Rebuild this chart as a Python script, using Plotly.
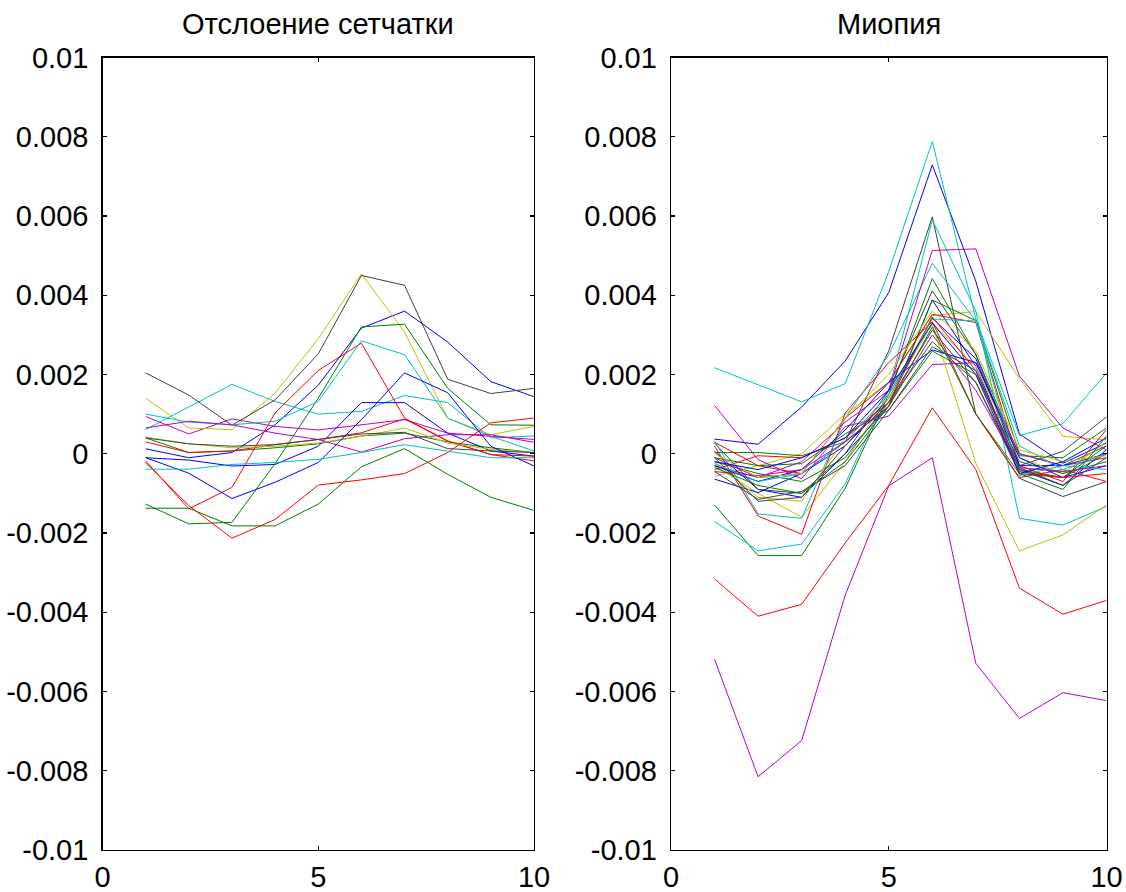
import numpy as np
import plotly.graph_objects as go

# x positions shared by every line
x_vals = [1, 2, 3, 4, 5, 6, 7, 8, 9, 10]

# MATLAB default colour order
BLUE, GREEN, RED, CYAN, MAG, YEL, BLK = "#0000FF", "#008000", "#FF0000", "#00BFBF", "#BF00BF", "#BFBF00", "#404040"

# ---- Left panel: "Отслоение сетчатки" (values in units of 1e-3) ----
left_colors = [BLUE, GREEN, RED, CYAN, MAG, YEL, BLK,
               BLUE, GREEN, RED, CYAN, MAG, YEL, BLK,
               BLUE, GREEN, RED, CYAN]
left_milli = [
    [0.125, -0.10, 0.03, 0.73, 1.73, 3.17, 3.60, 2.82, 1.82, 1.44],     # b
    [0.40, 0.03, 0.07, 0.15, 0.25, 0.45, 0.52, 0.30, 0.15, 0.03],       # g
    [0.30, 0.03, 0.07, 0.23, 0.36, 0.53, 0.88, 0.32, -0.02, -0.18],     # r
    [0.61, 1.19, 1.75, 1.32, 1.00, 1.07, 1.47, 1.29, 0.40, 0.45],       # c
    [0.94, 0.50, 0.88, 0.69, 0.60, 0.73, 0.86, 0.52, 0.44, 0.36],       # m
    [1.40, 0.65, 0.61, 1.53, 2.90, 4.54, 3.07, 0.90, 0.48, 0.69],       # y
    [2.04, 1.48, 0.72, 1.36, 2.52, 4.50, 4.25, 1.88, 1.52, 1.65],       # k
    [-0.10, -0.16, -0.31, -0.27, 0.19, 1.29, 1.29, 0.52, 0.07, -0.06],  # b
    [-1.27, -1.77, -1.73, -0.25, 1.40, 3.20, 3.27, 1.65, 0.73, 0.72],   # g
    [-0.18, -1.39, -0.85, 1.03, 2.10, 2.79, 0.90, 0.32, -0.02, -0.06],  # r
    [1.00, 0.80, 0.73, 0.82, 1.32, 2.85, 2.50, 0.90, 0.44, 0.07],       # c
    [0.65, 0.82, 0.73, 0.52, 0.36, 0.04, 0.38, 0.48, 0.48, 0.29],       # m
    [0.42, 0.25, 0.15, 0.19, 0.27, 0.44, 0.65, 0.27, 0.11, 0.03],       # y
    [0.40, 0.25, 0.19, 0.23, 0.36, 0.50, 0.54, 0.13, 0.07, 0.03],       # k
    [-0.10, -0.49, -1.13, -0.72, -0.22, 0.86, 2.04, 1.54, 0.19, -0.31], # b
    [-1.375, -1.375, -1.82, -1.82, -1.27, -0.33, 0.13, -0.52, -1.10, -1.43],  # g
    [-0.22, -1.31, -2.13, -1.66, -0.79, -0.66, -0.50, 0.03, 0.78, 0.90],      # r
    [-0.39, -0.39, -0.27, -0.22, -0.14, 0.03, 0.23, 0.07, -0.10, -0.10],      # c
]

# ---- Right panel: "Миопия" (values in units of 1e-3) ----
right_colors = [BLUE, GREEN, RED, CYAN, MAG, YEL, BLK,
                BLUE, GREEN, RED, CYAN, MAG, YEL, BLK,
                BLUE, GREEN, RED, CYAN, MAG, YEL, BLK,
                BLUE, GREEN, RED, CYAN, MAG, YEL, BLK,
                BLUE, GREEN]
right_milli = [
    [0.37, 0.24, 1.18, 2.34, 4.07, 7.29, 4.35, 0.50, -0.24, 0.27],     # b
    [-1.29, -2.57, -2.57, -0.87, 1.50, 4.42, 2.50, -0.05, -0.10, 0.65], # g
    [-3.16, -4.10, -3.80, -2.25, -0.80, 1.16, -0.40, -3.39, -4.05, -3.70], # r
    [2.17, 1.75, 1.31, 1.77, 4.60, 7.88, 3.40, 0.46, 0.76, 2.04],       # c
    [-5.19, -8.15, -7.24, -3.57, -0.81, -0.10, -5.29, -6.68, -6.03, -6.23], # m
    [-0.57, -0.30, 0.00, 1.00, 1.80, 3.49, 3.59, 1.90, 0.44, 0.35],     # y
    [-0.30, -0.60, -0.50, 0.30, 2.60, 5.98, 1.00, -0.62, -1.08, -0.70], # k
    [0.06, -0.90, -1.10, 0.00, 1.20, 3.88, 2.20, -0.40, -0.80, 0.10],   # b
    [0.03, 0.03, -0.05, 0.30, 1.20, 3.88, 3.36, 0.00, -0.30, 0.20],     # g
    [0.29, -0.30, -0.50, 0.90, 1.80, 3.52, 3.31, -0.30, -0.70, 0.61],   # r
    [-1.71, -2.45, -2.28, -0.76, 1.60, 5.90, 3.60, -1.63, -1.80, -1.33],# c
    [1.22, -0.15, -0.63, 0.69, 0.95, 2.25, 2.30, 0.00, -0.30, -0.10],   # m
    [-0.30, -1.00, -1.60, -0.20, 1.50, 3.27, -0.24, -2.45, -2.05, -1.29], # y
    [0.27, -0.90, -1.00, 0.00, 1.60, 4.11, 2.50, -0.30, 0.06, 0.93],    # k
    [-0.64, -0.98, -0.50, 0.20, 1.40, 3.42, 2.40, -0.30, -0.30, 0.00],  # b
    [-0.20, -0.50, -0.70, -0.10, 1.30, 2.83, 1.80, -0.40, -0.60, 0.00], # g
    [0.19, -1.57, -2.03, 1.03, 2.30, 3.33, 1.00, -0.60, -0.40, -0.70],  # r
    [0.33, -1.52, -1.63, 0.90, 2.50, 4.81, 3.35, 0.20, -0.40, 0.00],    # c
    [-0.10, -0.60, -0.20, 0.80, 1.60, 5.13, 5.17, 1.96, 0.65, 0.10],    # m
    [-0.20, -1.10, -1.20, 0.40, 1.40, 3.30, 2.20, -0.10, -0.50, 0.30],  # y
    [-0.10, -1.20, -1.10, 0.20, 1.30, 3.12, 1.80, -0.50, -0.60, 0.20],  # k
    [-0.30, -0.70, -0.40, 0.60, 1.80, 2.62, 2.30, -0.10, -0.60, -0.30], # b
    [-0.10, -0.30, -0.25, 0.50, 1.10, 2.59, 2.00, -0.20, -0.50, -0.20], # g
    [-0.40, -0.05, -0.10, 0.40, 1.30, 3.45, 2.10, -0.45, -0.60, -0.50], # r
    [-0.25, -0.70, -0.50, 0.30, 1.50, 3.40, 3.35, -0.55, -0.30, -0.40], # c
    [-0.45, -0.55, -0.40, 0.30, 1.20, 3.00, 1.60, -0.35, -0.45, -0.30], # m
    [0.00, -0.60, -0.50, 0.90, 2.00, 3.60, 2.60, 0.10, -0.20, -0.05],   # y
    [-0.45, -1.15, -0.95, -0.30, 1.10, 2.70, 2.10, -0.35, -0.80, -0.10],# k
    [-0.20, -0.40, -0.10, 0.40, 1.60, 3.30, 2.00, -0.50, -0.20, 0.40],  # b
    [-0.35, -0.80, -1.00, -0.20, 1.20, 3.20, 1.00, -0.50, -0.90, 0.45], # g
]

titles = ["Отслоение сетчатки", "Миопия"]
y_tickvals = [0.01, 0.008, 0.006, 0.004, 0.002, 0, -0.002, -0.004, -0.006, -0.008, -0.01]
y_ticktext = ["0.01", "0.008", "0.006", "0.004", "0.002", "0",
              "-0.002", "-0.004", "-0.006", "-0.008", "-0.01"]
x_tickvals = [0, 5, 10]
x_ticktext = ["0", "5", "10"]

SCALE = 1e-3
FONT = "Liberation Sans, Arial, sans-serif"
FS = 29

fig = go.Figure()

for series, colors, xa, ya in [(left_milli, left_colors, "x", "y"),
                               (right_milli, right_colors, "x2", "y2")]:
    for vals, col in zip(series, colors):
        fig.add_trace(go.Scatter(
            x=x_vals, y=(np.array(vals) * SCALE).tolist(),
            mode="lines", line=dict(color=col, width=1),
            xaxis=xa, yaxis=ya, showlegend=False, hoverinfo="skip"))

W, H = 1126, 892
left_dom = [102.5 / W, 534 / W]
right_dom = [671 / W, 1106.5 / W]
y_dom = [1 - 850 / H, 1 - 57.5 / H]

axis_common = dict(showline=True, linecolor="black", linewidth=1.3, mirror="allticks",
                   ticks="inside", ticklen=4, tickwidth=1.3, tickcolor="black",
                   showgrid=False, zeroline=False, automargin=False,
                   tickfont=dict(family=FONT, size=FS, color="black"))

fig.update_layout(
    width=W, height=H,
    margin=dict(l=0, r=0, t=0, b=0),
    paper_bgcolor="white", plot_bgcolor="white",
    template=None,
    xaxis=dict(domain=left_dom, range=[0, 10], tickvals=x_tickvals, ticktext=x_ticktext,
               anchor="y", ticklabelstandoff=1, **axis_common),
    yaxis=dict(domain=y_dom, range=[-0.01, 0.01], tickvals=y_tickvals, ticktext=y_ticktext,
               anchor="x", ticklabelstandoff=7, **axis_common),
    xaxis2=dict(domain=right_dom, range=[0, 10], tickvals=x_tickvals, ticktext=x_ticktext,
                anchor="y2", ticklabelstandoff=1, **axis_common),
    yaxis2=dict(domain=y_dom, range=[-0.01, 0.01], tickvals=y_tickvals, ticktext=y_ticktext,
                anchor="x2", ticklabelstandoff=7, **axis_common),
    annotations=[
        dict(text=titles[0], x=(left_dom[0] + left_dom[1]) / 2, y=y_dom[1], xref="paper", yref="paper",
             xanchor="center", yanchor="bottom", yshift=16, showarrow=False,
             font=dict(family=FONT, size=FS, color="black")),
        dict(text=titles[1], x=(right_dom[0] + right_dom[1]) / 2, y=y_dom[1], xref="paper", yref="paper",
             xanchor="center", yanchor="bottom", yshift=16, showarrow=False,
             font=dict(family=FONT, size=FS, color="black")),
    ],
)

# remove the browser's default 8px page margin so the figure fills the window exactly
fig.write_html("out.html",
               config={"displayModeBar": False, "staticPlot": True},
               post_script="document.body.style.margin='0px';document.body.style.overflow='hidden';")
